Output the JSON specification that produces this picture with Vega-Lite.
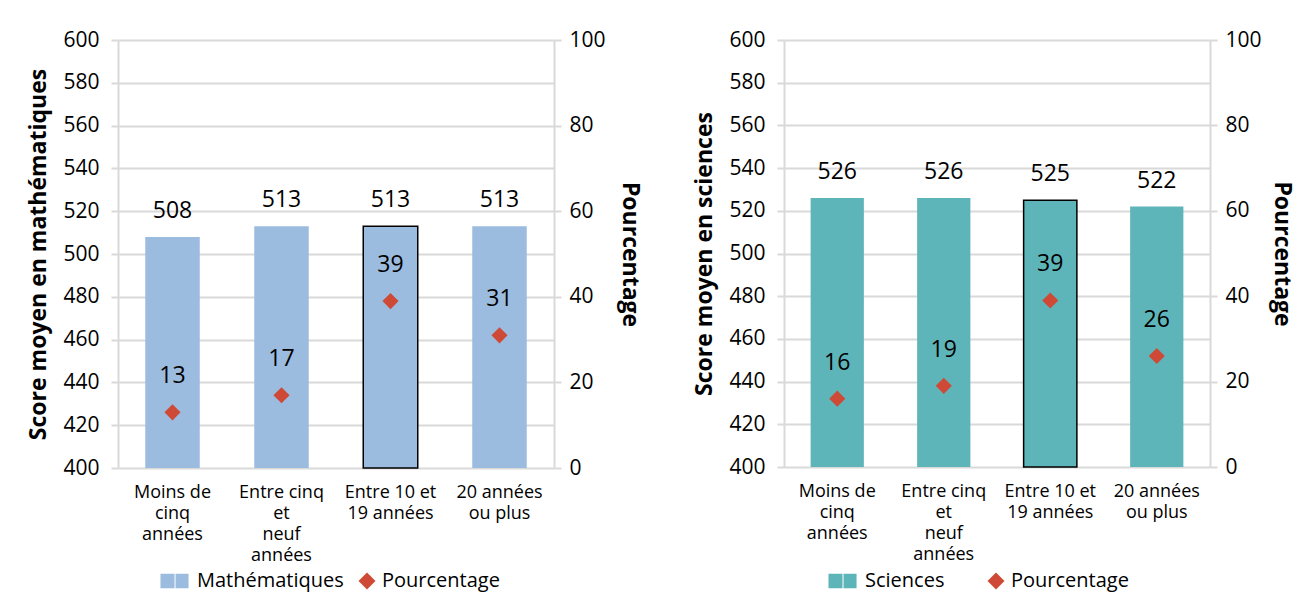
{
  "$schema": "https://vega.github.io/schema/vega-lite/v6.json",
  "background": "white",
  "padding": {"left": 27, "top": 29, "right": 8, "bottom": 8},
  "datasets": {
    "maths": [
      {"cat": "Moins de cinq années", "label": "Moins de|cinq|années", "score": 508, "pct": 13},
      {"cat": "Entre cinq et neuf années", "label": "Entre cinq|et|neuf|années", "score": 513, "pct": 17},
      {"cat": "Entre 10 et 19 années", "label": "Entre 10 et|19 années", "score": 513, "pct": 39},
      {"cat": "20 années ou plus", "label": "20 années|ou plus", "score": 513, "pct": 31}
    ],
    "sciences": [
      {"cat": "Moins de cinq années", "label": "Moins de|cinq|années", "score": 526, "pct": 16},
      {"cat": "Entre cinq et neuf années", "label": "Entre cinq|et|neuf|années", "score": 526, "pct": 19},
      {"cat": "Entre 10 et 19 années", "label": "Entre 10 et|19 années", "score": 525, "pct": 39},
      {"cat": "20 années ou plus", "label": "20 années|ou plus", "score": 522, "pct": 26}
    ]
  },
  "config": {
    "font": "Open Sans",
    "view": {"stroke": null},
    "axis": {"labelFont": "Open Sans", "labelFontSize": 21, "labelColor": "#000000", "titleFont": "Open Sans", "titleFontSize": 23, "titleFontWeight": "bold", "titleColor": "#000000", "labelOverlap": false},
    "legend": {"labelFont": "Open Sans", "labelFontSize": 20, "labelColor": "#000000", "symbolSize": 289, "labelOffset": 5, "padding": 0, "symbolStrokeWidth": 0}
  },
  "spacing": 52,
  "resolve": {"scale": {"fill": "independent", "shape": "independent", "x": "independent", "y": "independent"}, "legend": {"fill": "independent", "shape": "independent"}},
  "hconcat": [
    {
      "width": 436,
      "height": 428,
      "data": {"name": "maths"},
      "encoding": {
        "x": {"field": "label", "type": "nominal", "sort": null, "scale": {"paddingInner": 0.5, "paddingOuter": 0.25},
          "axis": {"title": null, "labelAngle": 0, "ticks": false, "domain": false, "labelPadding": 15, "labelExpr": "split(datum.label, '|')", "labelLineHeight": 21, "labelFontSize": 18, "labelBaseline": "top"}}
      },
      "layer": [
        {
          "mark": {"type": "bar", "fill": "#9BBBDF", "stroke": "#000000"},
          "encoding": {
            "y": {"field": "score", "type": "quantitative", "scale": {"domain": [400, 600], "nice": false, "zero": false},
              "axis": {"title": "Score moyen en mathématiques", "values": [400,420,440,460,480,500,520,540,560,580,600], "gridColor": "#D9D9D9", "gridWidth": 2, "tickColor": "#D9D9D9", "tickWidth": 2, "tickSize": 7, "domainColor": "#D9D9D9", "domainWidth": 2, "labelPadding": 12, "titlePadding": 12}},
            "y2": {"datum": 400},
            "strokeWidth": {"condition": {"test": "datum.cat == 'Entre 10 et 19 années'", "value": 1.5}, "value": 0}
          }
        },
        {
          "mark": {"type": "text", "fontSize": 23, "dy": -26, "color": "#000000"},
          "encoding": {
            "y": {"field": "score", "type": "quantitative", "scale": {"domain": [400, 600], "nice": false, "zero": false}, "axis": null},
            "text": {"field": "score", "type": "quantitative"}
          }
        },
        {
          "mark": {"type": "point", "filled": true, "size": 260, "opacity": 1},
          "encoding": {
            "y": {"field": "pct", "type": "quantitative", "scale": {"domain": [0, 100], "nice": false},
              "axis": {"orient": "right", "title": "Pourcentage", "grid": false, "values": [0,20,40,60,80,100], "tickColor": "#D9D9D9", "tickWidth": 2, "tickSize": 7, "domainColor": "#D9D9D9", "domainWidth": 2, "labelPadding": 8, "titlePadding": 12}},
            "fill": {"datum": "Pourcentage", "type": "nominal",
              "scale": {"domain": ["Mathématiques", "Pourcentage"], "range": ["#9BBBDF", "#CE4A36"]},
              "legend": {"title": null, "orient": "none", "legendX": 54, "legendY": 531, "direction": "horizontal", "columnPadding": 13}},
            "shape": {"datum": "Pourcentage", "type": "nominal",
              "scale": {"domain": ["Mathématiques", "Pourcentage"], "range": ["M-2.53,-0.85L-0.88,-0.85L-0.88,0.85L-2.53,0.85Z M-0.76,-0.85L0.77,-0.85L0.77,0.85L-0.76,0.85Z", "diamond"]},
              "legend": {"title": null, "orient": "none", "legendX": 54, "legendY": 531, "direction": "horizontal", "columnPadding": 13}}
          }
        },
        {
          "mark": {"type": "text", "fontSize": 23, "dy": -36, "color": "#000000"},
          "encoding": {
            "y": {"field": "pct", "type": "quantitative", "scale": {"domain": [0, 100], "nice": false}, "axis": null},
            "text": {"field": "pct", "type": "quantitative"}
          }
        }
      ],
      "resolve": {"scale": {"y": "independent"}, "axis": {"y": "independent"}}
    },
    {
      "width": 426,
      "height": 427,
      "data": {"name": "sciences"},
      "encoding": {
        "x": {"field": "label", "type": "nominal", "sort": null, "scale": {"paddingInner": 0.5, "paddingOuter": 0.25},
          "axis": {"title": null, "labelAngle": 0, "ticks": false, "domain": false, "labelPadding": 15, "labelExpr": "split(datum.label, '|')", "labelLineHeight": 21, "labelFontSize": 18, "labelBaseline": "top"}}
      },
      "layer": [
        {
          "mark": {"type": "bar", "fill": "#5EB5B9", "stroke": "#000000"},
          "encoding": {
            "y": {"field": "score", "type": "quantitative", "scale": {"domain": [400, 600], "nice": false, "zero": false},
              "axis": {"title": "Score moyen en sciences", "values": [400,420,440,460,480,500,520,540,560,580,600], "gridColor": "#D9D9D9", "gridWidth": 2, "tickColor": "#D9D9D9", "tickWidth": 2, "tickSize": 7, "domainColor": "#D9D9D9", "domainWidth": 2, "labelPadding": 12, "titlePadding": 12}},
            "y2": {"datum": 400},
            "strokeWidth": {"condition": {"test": "datum.cat == 'Entre 10 et 19 années'", "value": 1.5}, "value": 0}
          }
        },
        {
          "mark": {"type": "text", "fontSize": 23, "dy": -26, "color": "#000000"},
          "encoding": {
            "y": {"field": "score", "type": "quantitative", "scale": {"domain": [400, 600], "nice": false, "zero": false}, "axis": null},
            "text": {"field": "score", "type": "quantitative"}
          }
        },
        {
          "mark": {"type": "point", "filled": true, "size": 260, "opacity": 1},
          "encoding": {
            "y": {"field": "pct", "type": "quantitative", "scale": {"domain": [0, 100], "nice": false},
              "axis": {"orient": "right", "title": "Pourcentage", "grid": false, "values": [0,20,40,60,80,100], "tickColor": "#D9D9D9", "tickWidth": 2, "tickSize": 7, "domainColor": "#D9D9D9", "domainWidth": 2, "labelPadding": 8, "titlePadding": 8}},
            "fill": {"datum": "Pourcentage", "type": "nominal",
              "scale": {"domain": ["Sciences", "Pourcentage"], "range": ["#5EB5B9", "#CE4A36"]},
              "legend": {"title": null, "orient": "none", "legendX": 56, "legendY": 531, "direction": "horizontal", "columnPadding": 41}},
            "shape": {"datum": "Pourcentage", "type": "nominal",
              "scale": {"domain": ["Sciences", "Pourcentage"], "range": ["M-2.53,-0.85L-0.88,-0.85L-0.88,0.85L-2.53,0.85Z M-0.76,-0.85L0.77,-0.85L0.77,0.85L-0.76,0.85Z", "diamond"]},
              "legend": {"title": null, "orient": "none", "legendX": 56, "legendY": 531, "direction": "horizontal", "columnPadding": 41}}
          }
        },
        {
          "mark": {"type": "text", "fontSize": 23, "dy": -36, "color": "#000000"},
          "encoding": {
            "y": {"field": "pct", "type": "quantitative", "scale": {"domain": [0, 100], "nice": false}, "axis": null},
            "text": {"field": "pct", "type": "quantitative"}
          }
        }
      ],
      "resolve": {"scale": {"y": "independent"}, "axis": {"y": "independent"}}
    }
  ]
}
